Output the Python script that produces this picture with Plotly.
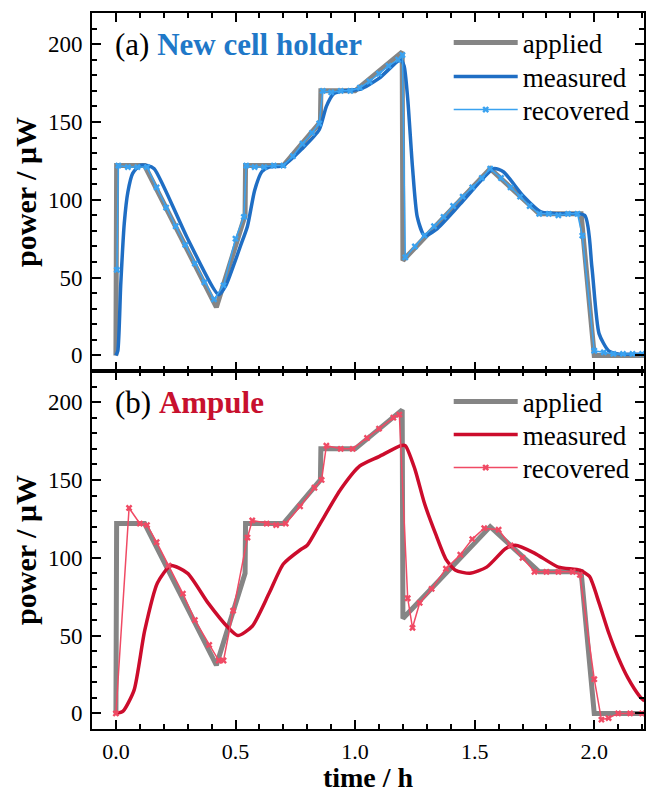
import plotly.graph_objects as go
from plotly.subplots import make_subplots

# ---------------- data ----------------
app_t = [0.0, 0.003, 0.12, 0.42, 0.54, 0.542, 0.70, 0.855, 0.857, 1.0, 1.197, 1.2, 1.565, 1.77, 1.945, 2.0, 2.21]
app_v = [0, 122, 122, 31, 90, 122, 122, 150, 170, 170, 195, 61, 120, 91, 91, 0, 0]

# (a) new cell holder
meas_a_t = [0.0, 0.008, 0.02, 0.035, 0.05, 0.07, 0.10, 0.13, 0.16, 0.30, 0.43, 0.46, 0.49, 0.52, 0.55,
            0.58, 0.61, 0.64, 0.70, 0.78, 0.85, 0.88, 0.91, 0.95, 1.02, 1.10, 1.19, 1.205, 1.22, 1.24,
            1.26, 1.29, 1.34, 1.45, 1.58, 1.62, 1.70, 1.78, 1.86, 1.96, 1.99, 2.02, 2.06, 2.10, 2.21]
meas_a_v = [0, 3, 45, 85, 105, 117, 122, 122, 120, 75, 39, 45, 57, 70, 83,
            106, 118, 121, 122, 133, 145, 160, 168, 170, 171, 178, 190, 186, 165, 121,
            89, 77, 81, 99, 120, 118, 103, 92, 91, 90, 57, 14, 3, 1, 1]

rec_a_t = [0.004, 0.01, 0.05, 0.09, 0.13, 0.17, 0.21, 0.25, 0.29, 0.33, 0.37, 0.41, 0.45, 0.50, 0.535,
           0.545, 0.58, 0.62, 0.66, 0.70, 0.74, 0.78, 0.82, 0.85, 0.865, 0.90, 0.94, 0.98, 1.02, 1.06,
           1.10, 1.14, 1.18, 1.198, 1.21, 1.25, 1.29, 1.33, 1.37, 1.41, 1.45, 1.49, 1.53, 1.565, 1.61,
           1.65, 1.69, 1.73, 1.77, 1.81, 1.85, 1.89, 1.93, 1.95, 2.0, 2.04, 2.08, 2.12, 2.16, 2.2]
rec_a_v = [55, 122, 121, 121, 121, 108, 95, 83, 71, 59, 47, 36, 45, 75, 89,
           122, 121, 121, 122, 122, 128, 136, 143, 149, 170, 169, 170, 170, 172, 176,
           181, 186, 190, 193, 63, 70, 77, 83, 89, 96, 102, 108, 114, 120, 114,
           108, 102, 96, 91, 91, 90, 91, 91, 77, 3, 2, 1, 1, 1, 1]

# (b) ampule
meas_b_t = [0.0, 0.03, 0.076, 0.12, 0.174, 0.23, 0.30, 0.385, 0.47, 0.51, 0.57, 0.64, 0.70, 0.77, 0.80,
            0.854, 0.94, 1.02, 1.10, 1.19, 1.21, 1.25, 1.29, 1.34, 1.38, 1.42, 1.48, 1.55, 1.63, 1.67,
            1.75, 1.85, 1.94, 1.98, 2.02, 2.06, 2.10, 2.14, 2.19, 2.21]
meas_b_v = [0, 1.5, 15, 53, 84, 95, 90, 71, 55, 50, 56, 77, 96, 105, 108,
            122, 144, 159, 165, 172, 172, 157, 135, 114, 99, 92, 90, 94, 106, 108,
            103, 94, 92, 88, 71, 52, 36, 23, 11, 8]

rec_b_t = [0.0, 0.055, 0.10, 0.13, 0.17, 0.22, 0.28, 0.33, 0.39, 0.43, 0.45, 0.49, 0.55, 0.57, 0.63,
           0.67, 0.71, 0.77, 0.83, 0.86, 0.88, 0.94, 0.99, 1.05, 1.10, 1.16, 1.185, 1.22, 1.24, 1.27,
           1.32, 1.38, 1.44, 1.49, 1.54, 1.60, 1.65, 1.70, 1.75, 1.80, 1.85, 1.91, 1.94, 2.00, 2.03,
           2.06, 2.10, 2.15, 2.2]
rec_b_v = [0, 132, 122, 121, 110, 95, 77, 60, 44, 34, 34, 66, 113, 124, 122,
           121, 122, 133, 145, 150, 172, 170, 170, 177, 183, 190, 192, 74, 55, 71,
           80, 93, 102, 112, 119, 118, 108, 100, 91, 91, 91, 91, 89, 22, -4,
           -3, 0, 0, 0]

x_ticks = [0.0, 0.5, 1.0, 1.5, 2.0]
x_tick_labels = ["0.0", "0.5", "1.0", "1.5", "2.0"]
y_ticks = [0, 50, 100, 150, 200]

# ---------------- style ----------------
FONT = "Liberation Serif"
GRAY = "#858585"
BLUE_M = "#1f6ec4"
BLUE_R = "#3aa2f0"
RED_M = "#cc0c2c"
RED_R = "#f04a64"

fig = make_subplots(rows=2, cols=1, shared_xaxes=False, vertical_spacing=0.0)

def add_panel(row, meas_t, meas_v, rec_t, rec_v, cm, cr, legs):
    fig.add_trace(go.Scatter(x=app_t, y=app_v, mode="lines", name="applied",
                             line=dict(color=GRAY, width=5), legend=legs[0]), row=row, col=1)
    fig.add_trace(go.Scatter(x=meas_t, y=meas_v, mode="lines", name="measured",
                             line=dict(color=cm, width=3.5, shape="spline", smoothing=0.6),
                             legend=legs[1]), row=row, col=1)
    fig.add_trace(go.Scatter(x=rec_t, y=rec_v, mode="lines+markers", name="recovered",
                             line=dict(color=cr, width=1.5),
                             marker=dict(symbol="x", size=6, color=cr, line=dict(width=0)),
                             legend=legs[2]), row=row, col=1)

add_panel(1, meas_a_t, meas_a_v, rec_a_t, rec_a_v, BLUE_M, BLUE_R, ["legend", "legend2", "legend3"])
add_panel(2, meas_b_t, meas_b_v, rec_b_t, rec_b_v, RED_M, RED_R, ["legend4", "legend5", "legend6"])

axis_common = dict(showline=True, linecolor="black", linewidth=2, mirror="allticks",
                   ticks="inside", tickcolor="black", tickwidth=2, ticklen=9,
                   showgrid=False, zeroline=False,
                   tickfont=dict(family=FONT, size=23, color="black"))

xa = dict(axis_common, range=[-0.1, 2.208], tickvals=x_ticks, ticktext=x_tick_labels,
          tickfont=dict(family=FONT, size=22, color="black"), ticklabelstandoff=2,
          minor=dict(dtick=0.1, tick0=0, ticks="inside", ticklen=5, tickcolor="black", tickwidth=2))
ya = dict(axis_common, range=[-10, 220], tickvals=y_ticks,
          minor=dict(dtick=10, tick0=0, ticks="inside", ticklen=5, tickcolor="black", tickwidth=2),
          ticklabelstandoff=3,
          title=dict(text="<b>power / μW</b>", font=dict(family=FONT, size=30, color="black"),
                     standoff=2))

fig.update_xaxes(**xa)
fig.update_xaxes(showticklabels=False, row=1, col=1)
fig.update_xaxes(title=dict(text="<b>time / h</b>", font=dict(family=FONT, size=28, color="black"),
                            standoff=6), row=2, col=1)
fig.update_yaxes(**ya)

def leg(ypx):
    return dict(x=(450 - 92) / 554, y=(729 - ypx) / 716, xanchor="left", yanchor="middle",
                bgcolor="rgba(0,0,0,0)", font=dict(family=FONT, size=27, color="black"),
                itemwidth=64, borderwidth=0, visible=True)

fig.update_layout(
    width=646, height=793,
    margin=dict(l=92, r=0, t=13, b=64),
    paper_bgcolor="white", plot_bgcolor="white",
    font=dict(family=FONT, color="black"),
    showlegend=True,
    legend=leg(43), legend2=leg(77), legend3=leg(110),
    legend4=leg(402), legend5=leg(435), legend6=leg(468),
    annotations=[
        dict(xref="x domain", yref="y domain", x=0.038, y=0.911, xanchor="left", yanchor="middle",
             showarrow=False, font=dict(family=FONT, size=31, color="black"),
             text="(a) <b><span style='color:#1f78c8'>New cell holder</span></b>"),
        dict(xref="x2 domain", yref="y2 domain", x=0.038, y=0.911, xanchor="left", yanchor="middle",
             showarrow=False, font=dict(family=FONT, size=31, color="black"),
             text="(b) <b><span style='color:#c8102e'>Ampule</span></b>"),
    ],
)

fig.write_html("out.html")
